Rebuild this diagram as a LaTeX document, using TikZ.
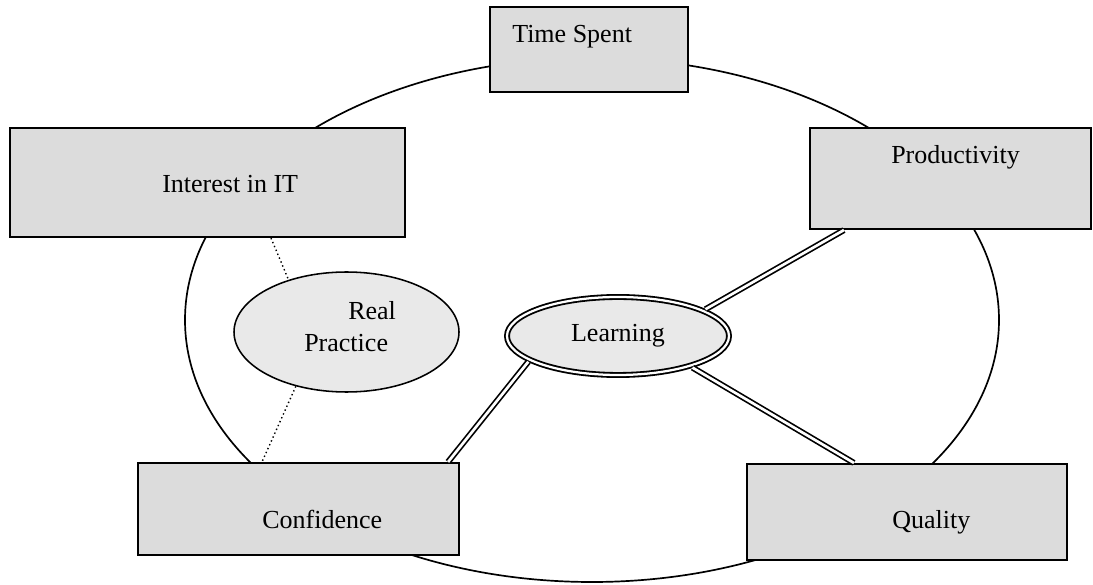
\documentclass[tikz,border=0pt]{standalone}
\usepackage{fontspec}
\setmainfont{Liberation Serif}
\usepackage{tikz}
\usetikzlibrary{shapes.geometric, positioning, calc}
\definecolor{boxgray}{RGB}{220,220,220}
\definecolor{ovalgray}{RGB}{233,233,233}

\begin{document}
\begin{tikzpicture}[
    factor/.style={draw, line width=1.5pt, fill=boxgray, rectangle, inner sep=0pt},
    oval/.style={draw, line width=1.1pt, fill=ovalgray, ellipse, inner sep=0pt},
    link/.style={line width=1.2pt, double, double distance=1.9pt},
    hint/.style={line width=1pt, dotted},
    lbl/.style={anchor=base west, inner sep=0pt, font=\fontsize{18.5}{22}\selectfont}
  ]
  \useasboundingbox (0,0) rectangle (27.325,14.6);

  % Outer loop, hidden behind the boxes
  \draw[line width=1.2pt] (14.8,6.6) ellipse (10.175 and 6.55);

  % Factor boxes
  \node[factor, minimum width=4.95cm, minimum height=2.125cm] (time) at (14.725,13.3625) {};
  \node[factor, minimum width=9.875cm, minimum height=2.725cm] (interest) at (5.1875,10.0375) {};
  \node[factor, minimum width=7.025cm, minimum height=2.525cm] (prod) at (23.7625,10.1375) {};
  \node[factor, minimum width=8.025cm, minimum height=2.3cm] (conf) at (7.4625,1.875) {};
  \node[factor, minimum width=8cm, minimum height=2.4cm] (qual) at (22.675,1.8) {};

  \node[lbl] (time-txt) at (12.8,13.525) {Time Spent};
  \node[lbl] (interest-txt) at (4.05,9.775) {Interest in IT};
  \node[lbl] (prod-txt) at (22.275,10.5) {Productivity};
  \node[lbl] (conf-txt) at (6.55,1.375) {Confidence};
  \node[lbl] (qual-txt) at (22.3,1.4) {Quality};

  % Ovals
  \node[oval, minimum width=5.625cm, minimum height=3cm] (practice) at (8.6625,6.3) {};
  \node[lbl] (real-txt) at (8.7,6.6) {Real};
  \node[lbl] (practice-txt) at (7.6,5.8) {Practice};
  \node[oval, line width=1.3pt, double, double distance=1.6pt, outer sep=2pt, minimum width=5.55cm, minimum height=1.95cm,
        font=\fontsize{18.5}{22}\selectfont] (learn) at (15.45,6.2) {Learning};

  % Links
  \draw[hint] ([xshift=1.5875cm]interest.south) -- (practice.138);
  \draw[hint] (practice.227) -- ([xshift=-0.9125cm]conf.north);
  \draw[link] (learn.17) -- ([xshift=0.875cm]prod.south west);
  \draw[link] (learn.196) -- ([xshift=-0.3cm]conf.north east);
  \draw[link] (learn.-23) -- ([xshift=2.7cm]qual.north west);
\end{tikzpicture}
\end{document}
